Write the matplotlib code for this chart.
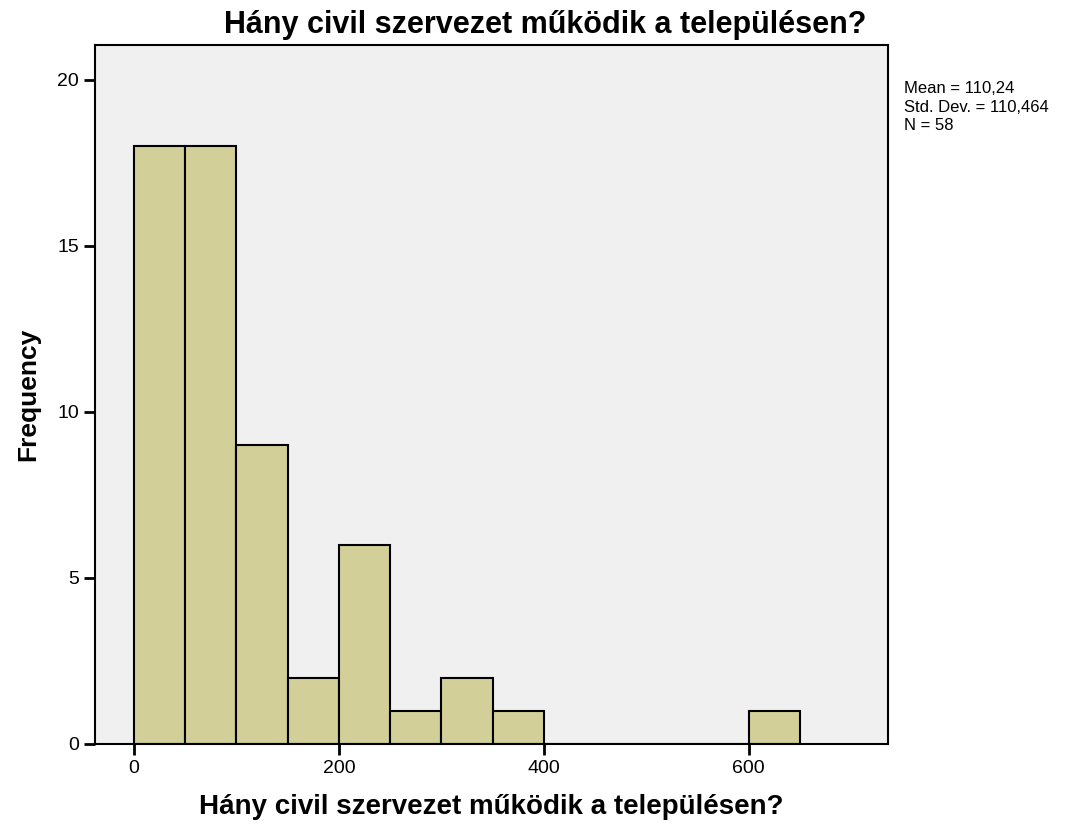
import numpy as np
import matplotlib
matplotlib.use("Agg")
import matplotlib.pyplot as plt

# bin edges (width 50) and counts
bin_edges = [0, 50, 100, 150, 200, 250, 300, 350, 400, 450, 500, 550, 600, 650]
counts = [18, 18, 9, 2, 6, 1, 2, 1, 0, 0, 0, 0, 1]
x_ticks = [0, 200, 400, 600]
y_ticks = [0, 5, 10, 15, 20]
title = "Hány civil szervezet működik a településen?"
stats_text = "Mean = 110,24\nStd. Dev. = 110,464\nN = 58"

plt.rcParams['font.family'] = ['Liberation Sans', 'DejaVu Sans']

fig = plt.figure(figsize=(10.9, 8.24), dpi=100)
ax = fig.add_axes([0.0872, 0.0971, 0.7275, 0.8483])
ax.set_facecolor('#f0f0f0')

ax.bar(bin_edges[:-1], counts, width=np.diff(bin_edges), align='edge',
       color='#d3cf99', edgecolor='black', linewidth=1.5)

ax.set_xlim(-38, 736)
ax.set_ylim(0, 21.05)
ax.set_xticks(x_ticks)
ax.set_yticks(y_ticks)
ax.tick_params(axis='both', labelsize=14, length=8, width=2, direction='out')
for s in ax.spines.values():
    s.set_linewidth(1.5)

ax.set_xlabel(title, fontsize=20, fontweight='bold', labelpad=12)
ax.set_ylabel("Frequency", fontsize=19, fontweight='bold', labelpad=12)
fig.text(0.5, 0.97, title, ha='center', va='center', fontsize=22, fontweight='bold')
fig.text(0.829, 0.870, stats_text, ha='left', va='center', fontsize=12, linespacing=1.3)

fig.savefig("out.png", dpi=100)
